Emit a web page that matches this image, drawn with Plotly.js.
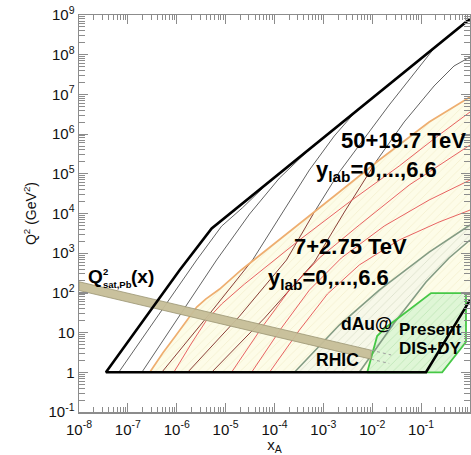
<!DOCTYPE html>
<html><head><meta charset="utf-8">
<script src="https://cdn.plot.ly/plotly-3.0.1.min.js"></script>
<style>html,body{margin:0;padding:0;background:#fff;}#chart{width:471px;height:455px;}</style>
</head><body><div id="chart"></div>
<script>
// ---------- data (x_A, Q^2 in GeV^2) ----------
// thick FCC boundary (50+19.7 TeV): y=1 line, rapidity edge, Q2=1 floor, large-x edge
const fccBoundX  = [1, 5.18e-6, 1.15e-6, 3.56e-8, 0.126, 1];
const fccBoundQ2 = [8.0e8, 4.2e3, 378, 1, 1, 66];
// thin FCC y_lab lines
const f1X = [6.5e-8, 4.09e-7, 2.56e-6, 8.28e-6, 2.22e-5, 5.69e-5];
const f1Q2 = [1, 26, 675, 4.8e3, 1.4e4, 4.3e4];
const f2X = [1.93e-7, 1.15e-6, 6.54e-6, 3.09e-5, 1.26e-4, 4.5e-4];
const f2Q2 = [1, 28, 675, 9.7e3, 7.8e4, 3.5e5];
const f3X = [4.94e-7, 4.3e-6, 3.56e-5, 1.46e-4, 5.18e-4, 1.67e-3, 4.3e-3];
const f3Q2 = [1, 26, 675, 1.09e4, 1.25e5, 8.95e5, 3.4e6];
const f4X = [1.67e-6, 1.93e-5, 1.76e-4, 6.55e-4, 2.12e-3, 2.22e-2, 0.184];
const f4Q2 = [1, 26, 675, 1.09e4, 1.11e5, 5.4e6, 1.45e8];
const f5X = [5.18e-6, 6.25e-5, 6.55e-4, 2.69e-3, 1.26e-2, 4.5e-2, 0.184, 0.471, 1];
const f5Q2 = [1, 23.3, 600, 1.09e4, 2.23e5, 2.02e6, 1.63e7, 5.2e7, 8.75e7];
const fSplit = [0, 0, 2, 3, 4]; // index where each FCC line leaves the LHC region
// LHC (7+2.75 TeV) boundary (orange)
const lhcBoundX = [2.81e-7, 5.18e-7, 9.1e-7, 1.67e-6, 2.56e-6, 3.91e-6, 7.55e-6, 2.09e-5, 3.24e-4, 2.12e-3, 1.39e-2, 0.146, 1];
const lhcBoundQ2 = [1, 3.06, 7.76, 22, 44, 70, 125, 378, 5.4e3, 3.48e4, 2.23e5, 2.02e6, 8.6e6];
// LHC y_lab lines (red)
const l1X = [8.7e-7, 2.02e-6, 4.09e-6, 8.28e-6, 2.44e-5, 3.24e-4, 3.4e-3, 3.56e-2, 0.233, 1];
const l1Q2 = [1, 5.47, 20.7, 52.5, 167, 2.15e3, 1.95e4, 1.57e5, 9.5e5, 3.6e6];
const l2X = [1.32e-5, 5.43e-5, 2.02e-4, 8.28e-4, 5.43e-3, 5.69e-2, 1];
const l2Q2 = [1, 13.1, 118, 757, 5.13e3, 5.2e4, 5.3e5];
const l3X = [3.4e-5, 1.39e-4, 5.18e-4, 2.33e-3, 1.76e-2, 0.146, 1];
const l3Q2 = [1, 13.1, 118, 757, 4.84e3, 2.19e4, 6.98e4];
const l4X = [7.9e-5, 3.24e-4, 1.21e-3, 5.43e-3, 3.56e-2, 0.233, 1];
const l4Q2 = [1, 11.6, 93.8, 505, 2.15e3, 6.1e3, 1.22e4];
// dAu@RHIC wedge
const dauUpX = [2.56e-4, 2.12e-3, 1.39e-2, 0.146, 1];
const dauUpQ2 = [1, 15.5, 118, 1.07e3, 5.13e3];
const dauLoX = [5.43e-3, 2.81e-2, 0.126, 0.372, 1];
const dauLoQ2 = [1, 17.5, 188, 757, 2.15e3];
// present DIS + DY region
const disX = [7.9e-3, 1.26e-2, 1.84e-2, 0.16, 0.828, 0.828, 0.269, 7.9e-3];
const disQ2 = [1, 8.2, 13.1, 99, 99, 5.8, 1, 1];
// Q2_sat,Pb(x) band
const satX = [1e-8, 9.5e-3];
const satTopQ2 = [191, 3.6];
const satBotQ2 = [115, 2.14];
const satTopDotX = [9.5e-3, 2.44e-2], satTopDotQ2 = [3.6, 2.73];
const satBotDotX = [9.5e-3, 2.22e-2], satBotDotQ2 = [2.14, 1.67];
// tick labels
const xTickVals = [1e-8, 1e-7, 1e-6, 1e-5, 1e-4, 1e-3, 1e-2, 1e-1];
const xTickText = ['10<sup>-8</sup>','10<sup>-7</sup>','10<sup>-6</sup>','10<sup>-5</sup>','10<sup>-4</sup>','10<sup>-3</sup>','10<sup>-2</sup>','10<sup>-1</sup>'];
const yTickVals = [1e-1, 1, 10, 1e2, 1e3, 1e4, 1e5, 1e6, 1e7, 1e8, 1e9];
const yTickText = ['10<sup>-1</sup>','1','10','10<sup>2</sup>','10<sup>3</sup>','10<sup>4</sup>','10<sup>5</sup>','10<sup>6</sup>','10<sup>7</sup>','10<sup>8</sup>','10<sup>9</sup>'];

// ---------- helpers ----------
function minorTicks(lo, hi) { const v = []; for (let n = lo; n < hi; n++) for (let k = 2; k <= 9; k++) v.push(k * Math.pow(10, n)); return v; }
function ln(x, y, color, width, dash) {
  return {type:'scatter', mode:'lines', x:x, y:y, line:{color:color, width:width, dash:dash||'solid'}, hoverinfo:'skip', showlegend:false};
}
function poly(x, y, fill, pattern, lineColor, lineWidth) {
  return {type:'scatter', mode:'lines', x:x, y:y, fill:'toself', fillcolor:fill, fillpattern:pattern,
          line:{color:lineColor||'rgba(0,0,0,0)', width:lineWidth||0}, hoverinfo:'skip', showlegend:false};
}
const BLACK_THIN = '#3a3a3a', MAROON = '#7d2a24', RED = '#e4474a', ORANGE = '#eeae70';

const traces = [];
// LHC region (yellow hatched)
traces.push(poly(lhcBoundX.concat([fccBoundX[5], fccBoundX[4], lhcBoundX[0]]),
                 lhcBoundQ2.concat([fccBoundQ2[5], fccBoundQ2[4], lhcBoundQ2[0]]),
                 '#fdfce8', {shape:'/', size:6, solidity:0.1, fgcolor:'#f1eac4', bgcolor:'#fdfce8', fillmode:'replace'}));
// dAu region
traces.push(poly(dauUpX.concat(dauLoX.slice().reverse()), dauUpQ2.concat(dauLoQ2.slice().reverse()),
                 'rgba(246,247,234,0.7)', {shape:'/', size:6, solidity:0.14, fgcolor:'#c4cfb6', fillmode:'overlay'}));
// DIS region
traces.push(poly(disX, disQ2, 'rgba(220,246,212,0.9)', {shape:'/', size:6, solidity:0.15, fgcolor:'#a6dc9e', fillmode:'overlay'}));

// FCC thin lines
const fX = [f1X, f2X, f3X, f4X, f5X], fQ = [f1Q2, f2Q2, f3Q2, f4Q2, f5Q2];
for (let i = 0; i < fX.length; i++) {
  const s = fSplit[i];
  if (s > 0) traces.push(ln(fX[i].slice(0, s + 1), fQ[i].slice(0, s + 1), MAROON, 0.9));
  traces.push(ln(fX[i].slice(s), fQ[i].slice(s), BLACK_THIN, 0.8));
}
// LHC lines
[[l1X,l1Q2],[l2X,l2Q2],[l3X,l3Q2],[l4X,l4Q2]].forEach(function(p){ traces.push(ln(p[0], p[1], RED, 0.85)); });
traces.push(ln(lhcBoundX, lhcBoundQ2, ORANGE, 1.7));
// dAu edges
traces.push(ln(dauUpX, dauUpQ2, '#849c84', 1.6));
traces.push(ln(dauLoX, dauLoQ2, '#849c84', 1.6));
// DIS outline
traces.push(ln(disX, disQ2, '#46c846', 1.8));
// saturation band
traces.push(poly([satX[0], satX[1], satX[1], satX[0], satX[0]], [satTopQ2[0], satTopQ2[1], satBotQ2[1], satBotQ2[0], satTopQ2[0]],
                 'rgba(198,190,152,0.95)', undefined, '#9a9472', 0.8));
traces.push(ln(satTopDotX, satTopDotQ2, '#a0a0a0', 1, 'dot'));
traces.push(ln(satBotDotX, satBotDotQ2, '#a0a0a0', 1, 'dot'));
// thick FCC boundary on top
traces.push(ln(fccBoundX, fccBoundQ2, '#000000', 2.6));

// ---------- annotations ----------
const FONT = 'Liberation Sans, Arial, Helvetica, sans-serif';
function ann(text, px, py, size, xanchor) {
  return {xref:'paper', yref:'paper', x:(px - 79) / 391, y:(412 - py) / 397, text:text, showarrow:false,
          xanchor:xanchor || 'left', yanchor:'middle', borderpad:0, font:{family:FONT, size:size, color:'#000'}};
}
const annotations = [
  ann('<b>50+19.7 TeV</b>', 340, 140, 22),
  ann('<b>y<sub>lab</sub>=0,...,6.6</b>', 315, 170.5, 22),
  ann('<b>7+2.75 TeV</b>', 293, 246.5, 22),
  ann('<b>y<sub>lab</sub>=0,...,6.6</b>', 267, 278.5, 22),
  ann('<b>dAu@</b>', 340, 323.7, 17.5),
  ann('<b>RHIC</b>', 315, 359.5, 17.5),
  ann('<b>Present</b>', 398, 329.5, 17),
  ann('<b>DIS+DY</b>', 398, 348, 17),
  ann('<b>Q</b>', 87, 276.2, 19),
  ann('<b>2</b>', 102, 271, 9.5),
  ann('<b>sat,Pb</b>', 102, 284, 9.5),
  ann('<b>(x)</b>', 130, 276.2, 19)
];

const axisCommon = {
  type:'log', showline:true, linecolor:'#8c8c8c', linewidth:1.5, mirror:'ticks',
  ticks:'inside', ticklen:9, tickwidth:1.2, tickcolor:'#8c8c8c', tickmode:'array',
  showgrid:false, zeroline:false, tickfont:{family:FONT, size:15, color:'#111'}
};
const layout = {
  width:471, height:455, margin:{l:79, r:1, t:15, b:43},
  paper_bgcolor:'#ffffff', plot_bgcolor:'#ffffff', showlegend:false,
  xaxis:Object.assign({}, axisCommon, {range:[-8, 0], tickvals:xTickVals, ticktext:xTickText, ticklabelstandoff:3,
    minor:{tickmode:'array', tickvals:minorTicks(-8, 0), ticks:'inside', ticklen:5, tickwidth:1, tickcolor:'#8c8c8c', showgrid:false},
    title:{text:'x<sub>A</sub>', font:{family:FONT, size:15, color:'#111'}, standoff:16}}),
  yaxis:Object.assign({}, axisCommon, {range:[-1, 9], tickvals:yTickVals, ticktext:yTickText,
    minor:{tickmode:'array', tickvals:minorTicks(-1, 9), ticks:'inside', ticklen:6, tickwidth:1, tickcolor:'#8c8c8c', showgrid:false},
    title:{text:'Q<sup>2</sup> (GeV<sup>2</sup>)', font:{family:FONT, size:14, color:'#111'}, standoff:8}}),
  annotations:annotations
};
Plotly.newPlot('chart', traces, layout, {displayModeBar:false, staticPlot:true});
</script></body></html>
